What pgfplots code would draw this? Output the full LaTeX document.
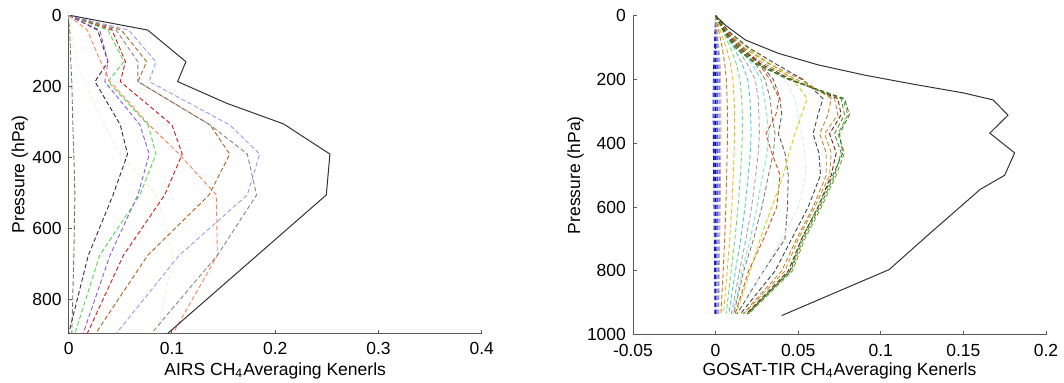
\documentclass[border=0pt]{standalone}
\usepackage{pgfplots}
\pgfplotsset{compat=1.18}
\usepackage{pgfplotstable}
\usepackage{fontspec}
\setmainfont{Liberation Sans}

% AIRS averaging kernels (one column per retrieval level)
\pgfplotstableread{
p    A      B      C      D      E      F      G      H      I      J
0    0      0      0      0      0      0      0      0      0      0
41   0.028  0.038  0.030  0.042  0.018  0.051  0.046  0.058  0.002  0.001
130  0.038  0.0535 0.038  0.055  0.031  0.0755 0.067  0.0845 0.008  0.002
186  0.0255 0.038  0.035  0.050  0.040  0.067  0.067  0.078  0.015  0.003
308  0.050  0.077  0.069  0.100  0.078  0.137  0.137  0.156  0.035  0.004
390  0.057  0.0845 0.078  0.110  0.107  0.156  0.173  0.185  0.050  0.005
505  0.043  0.069  0.067  0.093  0.143  0.136  0.182  0.173  0.085  0.006
675  0.019  0.030  0.040  0.053  0.144  0.0765 0.144  0.107  0.101  0.005
895  0.000  0.006  0.014  0.018  0.101  0.026  0.080  0.046  0.086  0.003
}\airs

% GOSAT-TIR averaging kernels
\pgfplotstableread{
p   b1      b2      b3 b4     b5     b6     b7     b8     c1     c2     c3     c4     c5     c6     c18    c7     c8     c9     c10    c11    c12    c17    c13    c14    c15    c16
0   0       0       0  0      0      0      0      0      0      0      0      0      0      0      0      0      0      0      0      0      0      0      0      0      0      0
50  -0.0004 -0.0002 0  0.0002 0.0004 0.0006 0.0008 0.0010 0.002  0.003  0.0045 0.005  0.006  0.006  0.006  0.007  0.007  0.008  0.008  0.008  0.007  0.006  0.006  0.005  0.005  0.005
100 -0.0008 -0.0004 0  0.0004 0.0008 0.0012 0.0016 0.0020 0.004  0.0065 0.009  0.011  0.013  0.014  0.015  0.016  0.016  0.018  0.019  0.020  0.017  0.015  0.014  0.013  0.012  0.012
150 -0.0012 -0.0006 0  0.0005 0.0011 0.0016 0.0021 0.0027 0.0055 0.009  0.0125 0.016  0.019  0.022  0.024  0.026  0.027  0.031  0.033  0.036  0.032  0.029  0.027  0.025  0.024  0.024
200 -0.0014 -0.0007 0  0.0006 0.0012 0.0018 0.0024 0.0031 0.0065 0.0105 0.0148 0.0195 0.0240 0.0275 0.0300 0.0330 0.0350 0.0420 0.0470 0.0530 0.0520 0.0490 0.0460 0.0450 0.0440 0.0445
260 -0.0015 -0.0008 0  0.0006 0.0012 0.0019 0.0025 0.0032 0.0070 0.0112 0.0158 0.0208 0.0258 0.0295 0.0330 0.0385 0.0390 0.0480 0.0555 0.0650 0.0700 0.0720 0.0740 0.0760 0.0770 0.0780
310 -0.0015 -0.0008 0  0.0006 0.0012 0.0019 0.0025 0.0032 0.0072 0.0115 0.0162 0.0212 0.0262 0.0310 0.0340 0.0365 0.0400 0.0500 0.0520 0.0620 0.0680 0.0740 0.0760 0.0780 0.0800 0.0810
370 -0.0014 -0.0007 0  0.0006 0.0012 0.0019 0.0025 0.0032 0.0072 0.0115 0.0162 0.0215 0.0265 0.0322 0.0360 0.0305 0.0380 0.0520 0.0480 0.0590 0.0630 0.0660 0.0690 0.0720 0.0740 0.0750
430 -0.0013 -0.0007 0  0.0006 0.0012 0.0018 0.0024 0.0031 0.0070 0.0112 0.0158 0.0210 0.0258 0.0312 0.0350 0.0340 0.0420 0.0540 0.0445 0.0625 0.0670 0.0700 0.0730 0.0760 0.0780 0.0770
500 -0.0012 -0.0006 0  0.0006 0.0012 0.0018 0.0024 0.0030 0.0067 0.0107 0.0150 0.0198 0.0243 0.0285 0.0320 0.0390 0.0440 0.0545 0.0410 0.0635 0.0670 0.0690 0.0700 0.0720 0.0730 0.0710
600 -0.0010 -0.0005 0  0.0005 0.0011 0.0017 0.0022 0.0028 0.0062 0.0098 0.0136 0.0178 0.0218 0.0250 0.0280 0.0370 0.0435 0.0500 0.0340 0.0560 0.0590 0.0600 0.0620 0.0630 0.0640 0.0620
700 -0.0008 -0.0004 0  0.0005 0.0010 0.0015 0.0020 0.0025 0.0055 0.0086 0.0117 0.0152 0.0184 0.0210 0.0230 0.0290 0.0420 0.0400 0.0270 0.0460 0.0490 0.0500 0.0520 0.0530 0.0540 0.0520
800 -0.0006 -0.0003 0  0.0004 0.0009 0.0013 0.0018 0.0022 0.0046 0.0070 0.0094 0.0120 0.0145 0.0160 0.0170 0.0200 0.0290 0.0290 0.0210 0.0360 0.0400 0.0420 0.0440 0.0455 0.0465 0.0450
935 -0.0004 -0.0002 0  0.0004 0.0008 0.0012 0.0016 0.0020 0.0032 0.0048 0.0064 0.0080 0.0095 0.0105 0.0110 0.0118 0.0130 0.0140 0.0125 0.0150 0.0165 0.0170 0.0185 0.0195 0.0200 0.0190
}\gosat

\definecolor{axgray}{rgb}{0.35,0.35,0.35}
\definecolor{kblack}{rgb}{0.25,0.15,0.2}
\definecolor{kgreen}{rgb}{0.3,0.85,0.3}
\definecolor{kpurple}{rgb}{0.55,0.35,0.85}
\definecolor{kred}{rgb}{0.8,0.1,0.1}
\definecolor{kcoral}{rgb}{1,0.5,0.35}
\definecolor{ksienna}{rgb}{0.65,0.38,0.12}
\definecolor{kgray}{rgb}{0.55,0.5,0.52}
\definecolor{klav}{rgb}{0.6,0.6,0.95}
\definecolor{kcream}{rgb}{0.96,0.94,0.8}
\definecolor{kolive}{rgb}{0.4,0.5,0.35}

\pgfplotsset{
  kernel/.style={line width=0.45pt, dash pattern=on 2.2pt off 1.3pt},
  every axis/.append style={
    scale only axis,
    width=206.5pt,
    y dir=reverse,
    axis x line*=bottom,
    axis y line*=left,
    axis line style={axgray, line width=0.5pt},
    tick align=inside,
    major tick length=1.8pt,
    tick style={axgray, line width=0.5pt},
    tick label style={font=\fontsize{8.75}{10.5}\selectfont},
    label style={font=\fontsize{8.75}{10.5}\selectfont},
    xticklabel style={yshift=-1pt},
    clip=false,
  },
}

\begin{document}
\begin{tikzpicture}
\path[use as bounding box] (-34.35pt,-24.25pt) rectangle (497.65pt,166.75pt);

\begin{axis}[
  at={(0pt,0pt)}, anchor=south west,
  height=159pt,
  xmin=0, xmax=0.4, ymin=0, ymax=895,
  xtick={0,0.1,0.2,0.3,0.4}, xticklabels={0,0.1,0.2,0.3,0.4},
  ytick={0,200,400,600,800}, yticklabels={0,200,400,600,800},
  xlabel={AIRS CH\textsubscript{4}Averaging Kenerls},
  ylabel={Pressure (hPa)},
  xlabel style={at={(axis description cs:0.5,-0.1305)}, anchor=base},
  ylabel style={at={(axis description cs:-0.118,0.5)}, anchor=center},
]
\addplot[kernel, kolive]  table[x=J, y=p]{\airs};
\addplot[kernel, kcream]  table[x=I, y=p]{\airs};
\addplot[kernel, kblack]  table[x=A, y=p]{\airs};
\addplot[kernel, kgreen]  table[x=B, y=p]{\airs};
\addplot[kernel, kpurple] table[x=C, y=p]{\airs};
\addplot[kernel, kred]    table[x=D, y=p]{\airs};
\addplot[kernel, kcoral]  table[x=E, y=p]{\airs};
\addplot[kernel, ksienna] table[x=F, y=p]{\airs};
\addplot[kernel, kgray]   table[x=G, y=p]{\airs};
\addplot[kernel, klav]    table[x=H, y=p]{\airs};
% total column sensitivity
\addplot[black!80, line width=0.5pt] coordinates {
  (0.002,0) (0.0765,41) (0.1135,130) (0.1055,186) (0.153,247) (0.208,305)
  (0.253,390) (0.2495,505) (0.0958,895)};
\end{axis}

\begin{axis}[
  at={(282.15pt,-0.6pt)}, anchor=south west,
  height=159.5pt,
  xmin=-0.05, xmax=0.2, ymin=0, ymax=1000,
  xtick={-0.05,0,0.05,0.1,0.15,0.2}, xticklabels={-0.05,0,0.05,0.1,0.15,0.2},
  ytick={0,200,400,600,800,1000}, yticklabels={0,200,400,600,800,1000},
  xlabel={GOSAT-TIR CH\textsubscript{4}Averaging Kenerls},
  ylabel={Pressure (hPa)},
  xlabel style={at={(axis description cs:0.5,-0.1285)}, anchor=base},
  ylabel style={at={(axis description cs:-0.139,0.5)}, anchor=center},
]
\addplot[kernel, color={rgb,1:red,0.10;green,0.10;blue,0.55}] table[x=b1, y=p]{\gosat};
\addplot[kernel, color={rgb,1:red,0.20;green,0.25;blue,0.85}] table[x=b2, y=p]{\gosat};
\addplot[kernel, color={rgb,1:red,0.05;green,0.05;blue,0.75}] table[x=b3, y=p]{\gosat};
\addplot[kernel, color={rgb,1:red,0.45;green,0.45;blue,0.85}] table[x=b4, y=p]{\gosat};
\addplot[kernel, color={rgb,1:red,0.25;green,0.35;blue,0.95}] table[x=b5, y=p]{\gosat};
\addplot[kernel, color={rgb,1:red,0.65;green,0.65;blue,0.90}] table[x=b6, y=p]{\gosat};
\addplot[kernel, color={rgb,1:red,0.55;green,0.45;blue,0.75}] table[x=b7, y=p]{\gosat};
\addplot[kernel, color={rgb,1:red,0.75;green,0.65;blue,0.55}] table[x=b8, y=p]{\gosat};
\addplot[kernel, color={rgb,1:red,0.80;green,0.45;blue,0.10}] table[x=c1, y=p]{\gosat};
\addplot[kernel, color={rgb,1:red,0.90;green,0.75;blue,0.10}] table[x=c2, y=p]{\gosat};
\addplot[kernel, color={rgb,1:red,0.45;green,0.85;blue,0.45}] table[x=c3, y=p]{\gosat};
\addplot[kernel, color={rgb,1:red,0.30;green,0.80;blue,0.75}] table[x=c4, y=p]{\gosat};
\addplot[kernel, color={rgb,1:red,0.70;green,0.62;blue,0.62}] table[x=c5, y=p]{\gosat};
\addplot[kernel, color={rgb,1:red,0.45;green,0.90;blue,0.85}] table[x=c6, y=p]{\gosat};
\addplot[kernel, color={rgb,1:red,0.55;green,0.50;blue,0.40}] table[x=c18, y=p]{\gosat};
\addplot[kernel, color={rgb,1:red,0.85;green,0.30;blue,0.10}] table[x=c7, y=p]{\gosat};
\addplot[kernel, color={rgb,1:red,0.40;green,0.35;blue,0.30}] table[x=c8, y=p]{\gosat};
\addplot[kernel, color={rgb,1:red,0.80;green,0.95;blue,0.95}] table[x=c9, y=p]{\gosat};
\addplot[kernel, color={rgb,1:red,0.75;green,0.85;blue,0.10}] table[x=c10, y=p]{\gosat};
\addplot[kernel, color={rgb,1:red,0.25;green,0.25;blue,0.25}] table[x=c11, y=p]{\gosat};
\addplot[kernel, color={rgb,1:red,0.80;green,0.50;blue,0.15}] table[x=c12, y=p]{\gosat};
\addplot[kernel, color={rgb,1:red,0.70;green,0.60;blue,0.20}] table[x=c17, y=p]{\gosat};
\addplot[kernel, color={rgb,1:red,0.55;green,0.10;blue,0.10}] table[x=c13, y=p]{\gosat};
\addplot[kernel, color={rgb,1:red,0.20;green,0.60;blue,0.20}] table[x=c14, y=p]{\gosat};
\addplot[kernel, color={rgb,1:red,0.55;green,0.60;blue,0.15}] table[x=c15, y=p]{\gosat};
\addplot[kernel, color={rgb,1:red,0.15;green,0.45;blue,0.15}] table[x=c16, y=p]{\gosat};
% total column sensitivity
\addplot[black!80, line width=0.5pt] coordinates {
  (0,0) (0.006,30) (0.018,76) (0.038,118) (0.062,154) (0.090,186) (0.120,215)
  (0.150,242) (0.168,264) (0.177,312) (0.166,368) (0.181,430) (0.175,500)
  (0.160,545) (0.153,577) (0.130,681) (0.105,796) (0.040,940)};
\end{axis}
\end{tikzpicture}
\end{document}
